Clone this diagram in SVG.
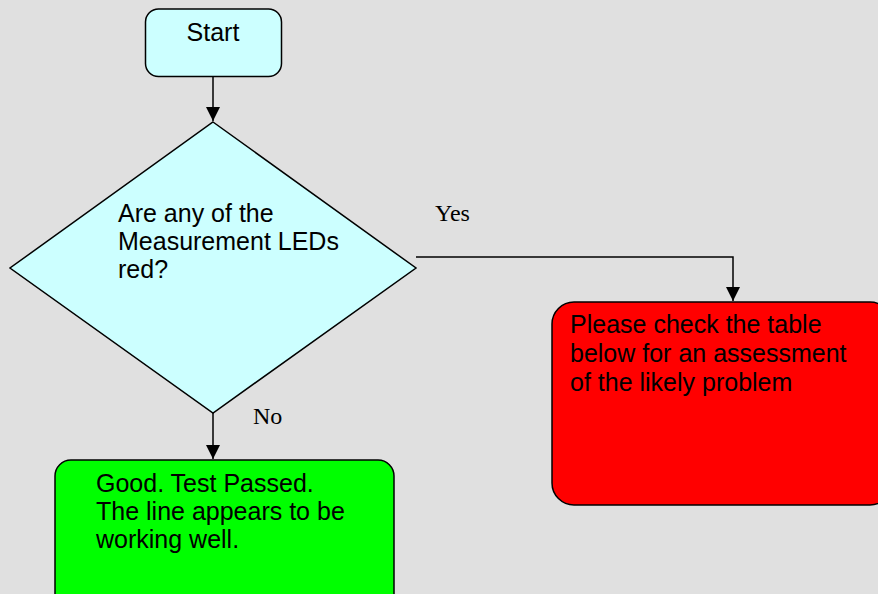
<svg xmlns="http://www.w3.org/2000/svg" width="878" height="594" viewBox="0 0 878 594">
<style>
.node{stroke:#000;stroke-width:1.5}
.t{font-family:"Liberation Sans",Arial,sans-serif;font-size:25px;fill:#000}
.lbl{font-family:"Liberation Serif","Times New Roman",serif;font-size:24px;fill:#000}
.conn{fill:none;stroke:#000;stroke-width:1.5}
</style>
<defs>
<marker id="arr" markerUnits="userSpaceOnUse" markerWidth="14" markerHeight="14" viewBox="0 0 14 14" refX="14" refY="7" orient="auto">
<path d="M0,0 L14,7 L0,14 Z" fill="#000"/>
</marker>
</defs>
<rect width="878" height="594" fill="#e0e0e0"/>
<g id="start">
<rect class="node" x="145.5" y="9" width="136" height="67.5" rx="13" fill="#ccffff"/>
<text class="t" x="213" y="41" text-anchor="middle">Start</text>
</g>
<g id="decision">
<polygon class="node" points="213,122 416,268 213,413 10,268" fill="#ccffff"/>
<text class="t" x="118" y="222">Are any of the</text>
<text class="t" x="118" y="250">Measurement LEDs</text>
<text class="t" x="118" y="278">red?</text>
</g>
<g id="problem">
<rect class="node" x="552" y="302" width="340" height="203" rx="22" fill="#ff0000"/>
<text class="t" x="570" y="333">Please check the table</text>
<text class="t" x="570" y="362">below for an assessment</text>
<text class="t" x="570" y="391">of the likely problem</text>
</g>
<g id="passed">
<rect class="node" x="55" y="460" width="339" height="160" rx="16" fill="#00ff00"/>
<text class="t" x="96" y="492">Good. Test Passed.</text>
<text class="t" x="96" y="520">The line appears to be</text>
<text class="t" x="96" y="548">working well.</text>
</g>
<g id="connectors">
<line class="conn" x1="213" y1="77" x2="213" y2="121" marker-end="url(#arr)"/>
<polyline class="conn" points="416,257 733,257 733,301" marker-end="url(#arr)"/>
<line class="conn" x1="213" y1="413" x2="213" y2="459" marker-end="url(#arr)"/>
<text class="lbl" x="435" y="221">Yes</text>
<text class="lbl" x="253" y="424">No</text>
</g>
</svg>
